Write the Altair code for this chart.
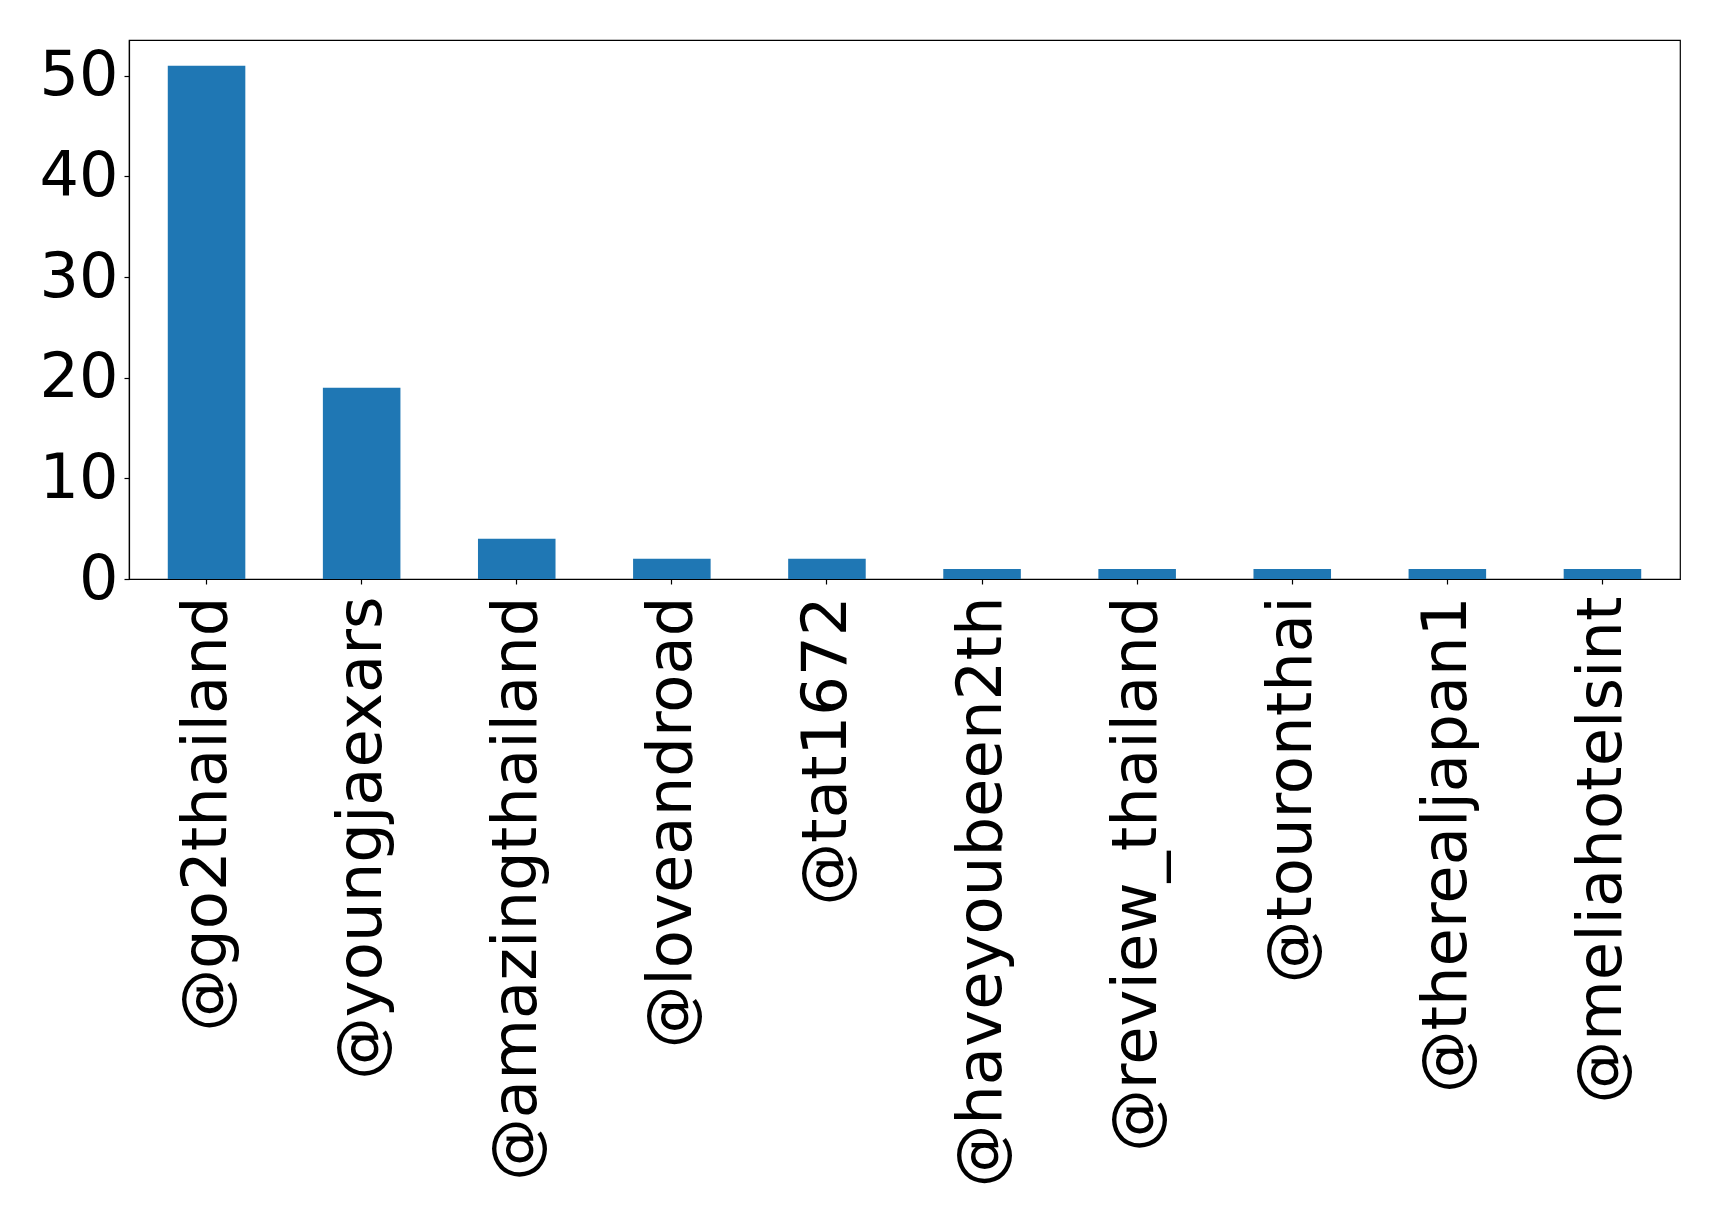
import altair as alt
import pandas as pd

accounts = ["@go2thailand", "@youngjaexars", "@amazingthailand", "@loveandroad",
            "@tat1672", "@haveyoubeen2th", "@review_thailand", "@touronthai",
            "@therealjapan1", "@meliahotelsint"]
counts = [51, 19, 4, 2, 2, 1, 1, 1, 1, 1]
y_ticks = [0, 10, 20, 30, 40, 50]

df = pd.DataFrame({"account": accounts, "count": counts})

chart = alt.Chart(df).mark_bar(color="#1f77b4").encode(
    x=alt.X("account:N", sort=accounts,
            scale=alt.Scale(paddingInner=0.5, paddingOuter=0.25),
            axis=alt.Axis(title=None, labelAngle=-90, labelFontSize=62.5,
                          labelFont="DejaVu Sans", labelColor="black",
                          tickSize=5, tickColor="black", domainColor="black",
                          labelPadding=12, labelLimit=0, labelAlign="right",
                          labelBaseline="middle")),
    y=alt.Y("count:Q", scale=alt.Scale(domain=[0, 53.55], nice=False, zero=True),
            axis=alt.Axis(title=None, values=y_ticks, grid=False, labelFontSize=62,
                          labelFont="DejaVu Sans", labelColor="black",
                          tickSize=5, tickColor="black", domainColor="black",
                          labelPadding=6, labelBaseline="middle")),
).properties(
    width=1551, height=539,
    autosize=alt.AutoSizeParams(type="none"),
    padding={"left": 121, "top": 32, "right": 30, "bottom": 632},
).configure_view(
    stroke="black", strokeWidth=1.2
).configure_axis(
    domainWidth=1.2, tickWidth=1.2
)

chart.save("out.html", embed_options={"renderer": "svg", "actions": False})
